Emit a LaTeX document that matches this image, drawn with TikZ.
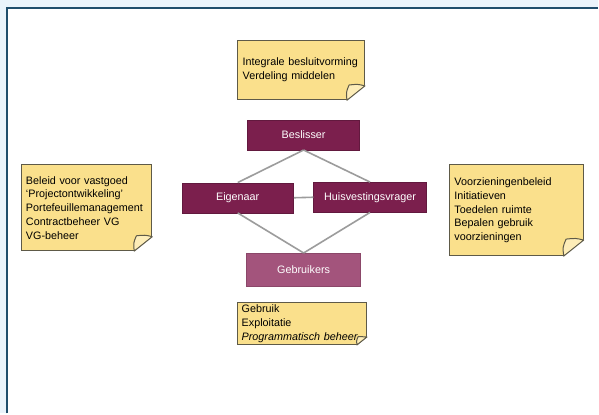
\documentclass[tikz,border=0pt]{standalone}
\usepackage{fontspec}
\setmainfont{Liberation Sans}
\usepackage{tikz}
\usetikzlibrary{positioning,calc}
\usepackage{xcolor}
\definecolor{pagebg}{HTML}{EAF4FB}
\definecolor{frameline}{HTML}{1F4E6C}
\definecolor{rolefill}{HTML}{7B1F4D}
\definecolor{userfill}{HTML}{A3547C}
\definecolor{notefill}{HTML}{FAE08C}
\definecolor{noteflap}{HTML}{FDEDB8}
\definecolor{noteline}{HTML}{5E5A48}
\definecolor{linkgray}{HTML}{9C9C9C}

% folded corner of a note (#1 = note, #2 = size)
\newcommand{\notecorner}[2]{%
    \fill[white] ($(#1.south east)+(-#2-1,1)$) -- ($(#1.south east)+(1,1)$) -- ($(#1.south east)+(1,-0.8*#2-1)$) -- cycle;
    \draw[noteline, line width=1pt, fill=noteflap, line join=round]
        ($(#1.south east)+(-#2,0)$) .. controls ($(#1.south east)+(-1.05*#2,-0.45*#2)$) .. ($(#1.south east)+(-0.88*#2,-0.85*#2)$)
        .. controls ($(#1.south east)+(-0.4*#2,-0.9*#2)$) .. ($(#1.south east)+(0,-0.8*#2)$) -- cycle;
}

\begin{document}
\begin{tikzpicture}[x=1pt, y=-1pt,
    role/.style={draw=rolefill!80!black, fill=rolefill, text=white, minimum width=112pt, minimum height=30pt, inner sep=0pt, font=\fontsize{10.8}{13}\selectfont},
    note/.style={draw=noteline, fill=notefill, line width=0.8pt, align=left, inner xsep=5pt, inner ysep=4pt, font=\fontsize{10.8}{13.8}\selectfont},
    link/.style={draw=linkgray, line width=1.6pt}
]
    % page background and frame
    \fill[pagebg] (0,0) rectangle (599,414);
    \fill[white] (7,8) rectangle (599,414);
    \draw[frameline, line width=1.5pt] (7,414) -- (7,8) -- (599,8);
    \useasboundingbox (0,0) rectangle (599,414);

    % roles
    \node[role] (beslisser) at (304,135) {Beslisser};
    \node[role] (eigenaar) at (238,198) {Eigenaar};
    \node[role, minimum width=113pt] (huisvesting) at (370.5,197.5) {Huisvestingsvrager};
    \node[role, fill=userfill, draw=userfill!85!black, minimum width=114pt, minimum height=33pt] (gebruikers) at (304,270) {Gebruikers};

    % notes
    \node[note, text width=117pt, minimum height=60pt] (besluit) at (301.5,70) {Integrale besluitvorming\\Verdeling middelen\\[6pt]};
    \node[note, text width=121pt, minimum height=86pt] (vastgoed) at (86.5,208) {Beleid voor vastgoed\\`Projectontwikkeling'\\Portefeuillemanagement\\Contractbeheer VG\\VG-beheer\\[7pt]};
    \node[note, text width=124pt, minimum height=91pt] (voorziening) at (517,210.5) {Voorzieningenbeleid\\Initiatieven\\Toedelen ruimte\\Bepalen gebruik\\voorzieningen\\[10pt]};
    \node[note, text width=121pt, minimum height=42pt, inner xsep=4pt, inner ysep=2pt] (beheer) at (302.5,324) {Gebruik\\Exploitatie\\\textit{Programmatisch beheer}};

    \notecorner{besluit}{18}
    \notecorner{vastgoed}{18}
    \notecorner{voorziening}{20}
    \notecorner{beheer}{10}

    % connectors
    \draw[link] (beslisser.south) -- (eigenaar.north);
    \draw[link] (beslisser.south) -- (huisvesting.north);
    \draw[link] (eigenaar.south) -- (gebruikers.north);
    \draw[link] (huisvesting.south) -- (gebruikers.north);
    \draw[link] (eigenaar.east) -- (huisvesting.west);
\end{tikzpicture}
\end{document}
